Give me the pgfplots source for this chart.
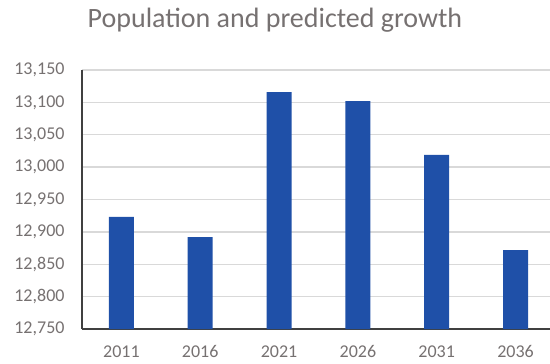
\documentclass[border=0pt]{standalone}
\usepackage{fontspec}
\setmainfont{Carlito}
\usepackage{pgfplots}
\pgfplotsset{compat=1.18}
\definecolor{barblue}{RGB}{31,80,168}
\definecolor{txtgray}{RGB}{118,113,113}
\definecolor{gridgray}{RGB}{217,217,217}
\definecolor{axisdark}{RGB}{64,64,64}
\begin{document}
\begin{tikzpicture}
\begin{axis}[
  scale only axis,
  width=468bp, height=259bp,
  ymin=12750, ymax=13150,
  ytick={12750,12800,...,13150},
  scaled y ticks=false,
  xmin=-0.5, xmax=5.437,
  xtick=data,
  xticklabels={2011,2016,2021,2026,2031,2036},
  ybar, bar width=25bp,
  axis x line*=bottom,
  axis y line*=left,
  axis line style={axisdark, line width=1.2pt},
  x axis line style={-},
  y axis line style={-},
  major tick length=0pt,
  ymajorgrids,
  grid style={gridgray, line width=1.5pt},
  ticklabel style={font=\fontsize{18bp}{20bp}\selectfont, text=txtgray},
  yticklabel style={xshift=-14bp},
  xticklabel style={yshift=-13bp},
  yticklabel={\pgfmathprintnumber[fixed,1000 sep={,},assume math mode=true]{\tick}},
]
\addplot[fill=barblue, draw=none] coordinates {
  (0,12923) (1,12892) (2,13116) (3,13102) (4,13019) (5,12872)
};
\end{axis}
\pgfresetboundingbox
\path[use as bounding box] (-82bp,-35bp) rectangle (468bp,329bp);
\node[text=txtgray, font=\fontsize{28bp}{30bp}\selectfont] at (193bp,309bp) {Population and predicted growth};
\end{tikzpicture}
\end{document}
